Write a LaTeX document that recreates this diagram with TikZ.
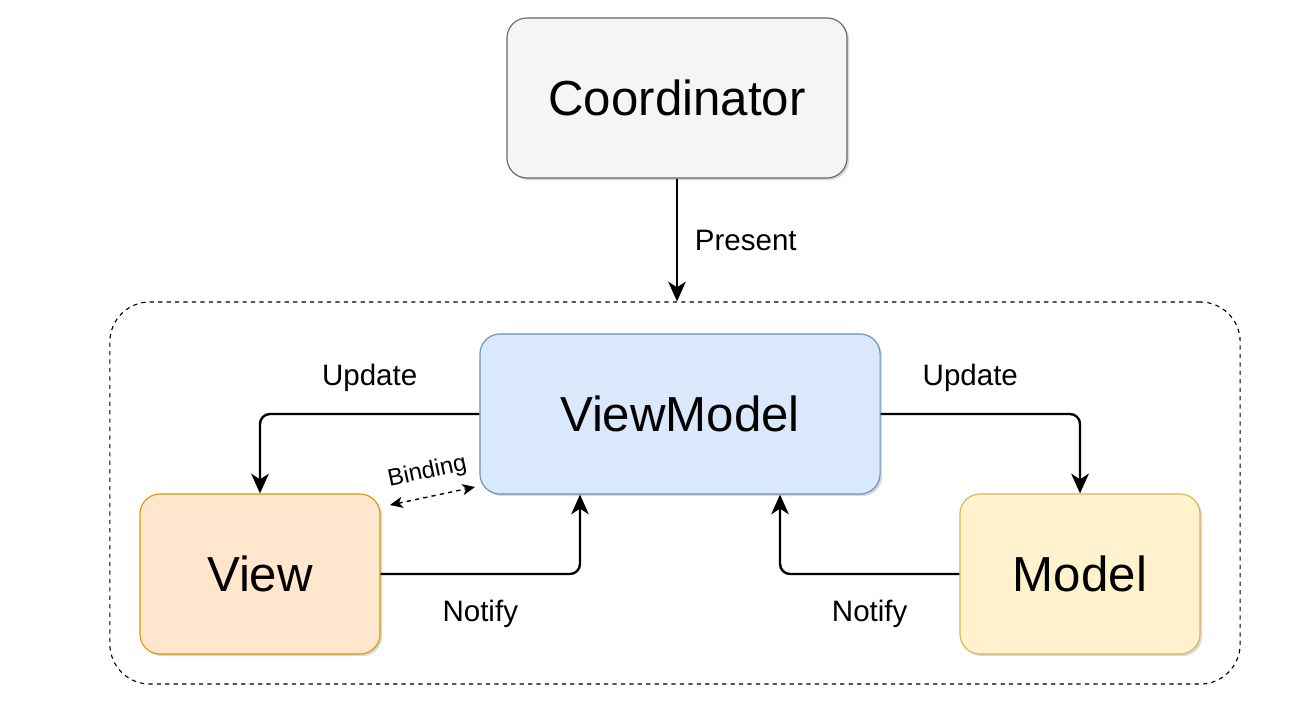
\documentclass[tikz,border=0pt]{standalone}
\usepackage{fontspec}
\setmainfont{Liberation Sans}
\usetikzlibrary{arrows.meta,shadows}
\definecolor{coordfill}{HTML}{F5F5F5}
\definecolor{coorddraw}{HTML}{666666}
\definecolor{vmfill}{HTML}{DAE8FC}
\definecolor{vmdraw}{HTML}{6C8EBF}
\definecolor{viewfill}{HTML}{FFE6CC}
\definecolor{viewdraw}{HTML}{D79B00}
\definecolor{modelfill}{HTML}{FFF2CC}
\definecolor{modeldraw}{HTML}{D6B656}
\tikzset{
  box/.style = {rounded corners=0.5cm, align=center, line width=0.8pt,
    minimum height=4cm, font=\fontsize{35}{42}\selectfont,
    drop shadow={shadow xshift=1.5pt, shadow yshift=-1.5pt, opacity=0.3}},
  box_c/.style = {box, draw=coorddraw, fill=coordfill, minimum width=8.5cm},% coordinator
  box_vm/.style = {box, draw=vmdraw, fill=vmfill, minimum width=10cm},% viewmodel
  box_v/.style = {box, draw=viewdraw, fill=viewfill, minimum width=6cm},% view
  box_m/.style = {box, draw=modeldraw, fill=modelfill, minimum width=6cm},% model
  lbl/.style = {font=\fontsize{21}{25}\selectfont},
  conn/.style = {->, line width=1.7pt, rounded corners=0.25cm}
}

\begin{document}
\begin{tikzpicture}[x=0.025cm, y=-0.025cm,
                    >={Stealth[length=14pt,width=12.5pt,inset=4pt]}]
  \useasboundingbox (0,0) rectangle (1312,728);
  % frame round the MVVM part
  \node [draw, dashed, line width=0.8pt, rounded corners=1cm,
         minimum width=28.25cm, minimum height=9.55cm] (mvvm) at (675,493) {};
  \node [box_c]  (coord) at (677,98)   {Coordinator};
  \node [box_vm] (vm)    at (680,414)  {ViewModel};
  \node [box_v]  (view)  at (260,574)  {View};
  \node [box_m]  (model) at (1080,574) {Model};
  \coordinate (bindA) at (390,505);
  \coordinate (bindB) at (475,487);

  \draw [conn] (coord.south) -- (coord.south |- mvvm.north)
    node [lbl, midway, right=0.3cm] {Present};
  \draw [conn] (vm.west) -| (view.north)
    node [lbl, pos=0.25, above=0.42cm] {Update};
  \draw [conn] (vm.east) -| (model.north)
    node [lbl, pos=0.25, above=0.42cm, xshift=-0.25cm] {Update};
  \draw [conn] (view.east) -| ([xshift=-2.5cm]vm.south)
    node [lbl, pos=0.25, below=0.5cm] {Notify};
  \draw [conn] (model.west) -| ([xshift=2.5cm]vm.south)
    node [lbl, pos=0.25, below=0.5cm] {Notify};
  \draw [<->, dashed, line width=1pt, >={Stealth[length=9pt,width=8pt,inset=2.5pt]}]
    (bindA) -- (bindB)
    node [font=\fontsize{17}{20}\selectfont, midway, sloped, above=0.2cm] {Binding};
\end{tikzpicture}
\end{document}
